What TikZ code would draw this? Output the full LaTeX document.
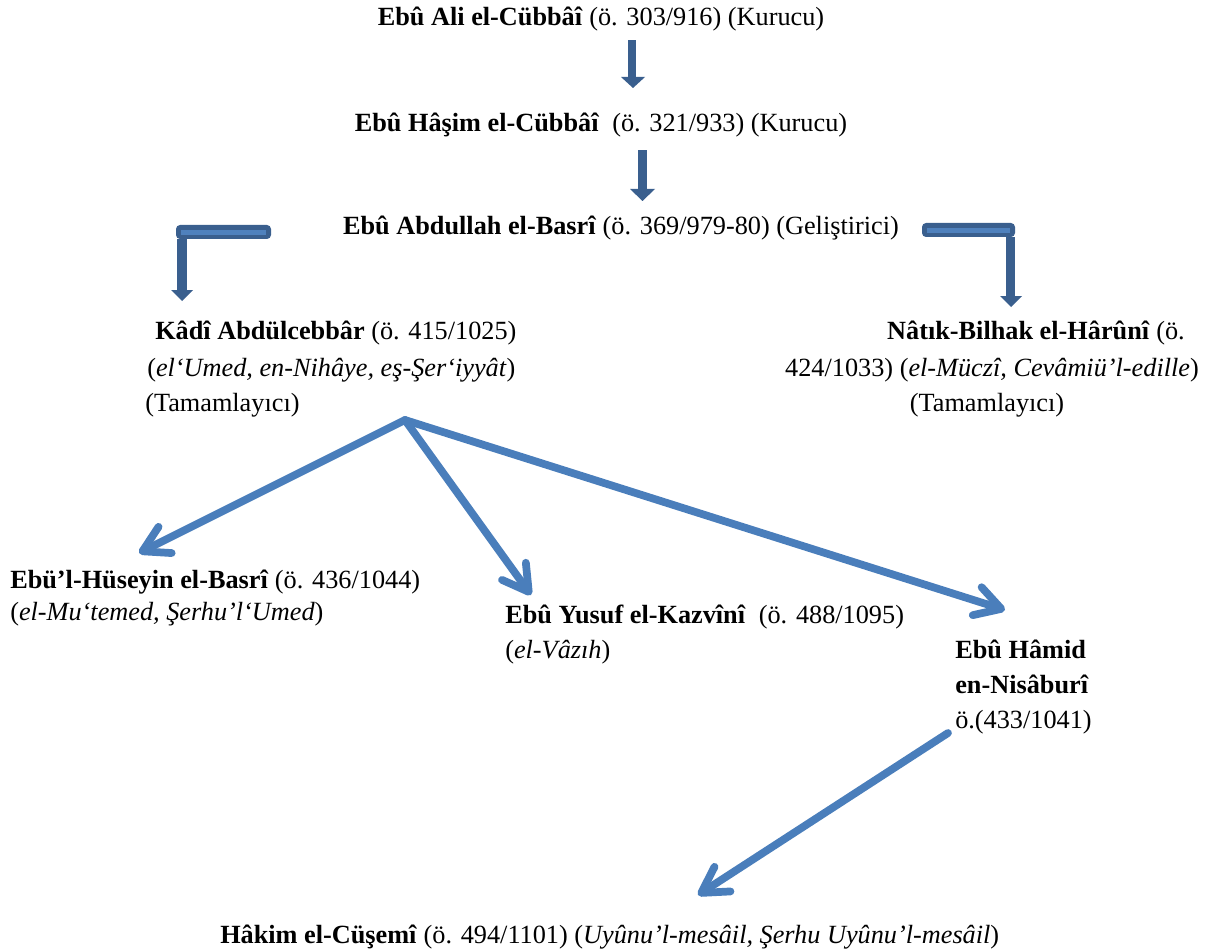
\documentclass[tikz,border=0pt]{standalone}
\usepackage{fontspec}
\setmainfont{Liberation Serif}
\usetikzlibrary{arrows.meta}
\definecolor{darkarrow}{HTML}{3A5F8E}
\definecolor{lightstripe}{HTML}{4F81BD}
\definecolor{bluearrow}{HTML}{4A7EBB}
\begin{document}
\begin{tikzpicture}[x=0.75pt,y=-0.75pt,
  txt/.style={inner sep=0pt,font=\fontsize{19.7}{26}\selectfont},
  blockfill/.style={fill=darkarrow},
  stripe/.style={fill=lightstripe},
  bluearr/.style={draw=bluearrow,line width=5.8pt,line cap=round,line join=round,
    -{Straight Barb[length=19pt,width=22pt,line cap=round,line join=round]}}]
\useasboundingbox (0,0) rectangle (1213,952);

% text nodes
\node[txt,anchor=base] (n1) at (601,26) {\textbf{Ebû Ali el-Cübbâî} (ö. 303/916) (Kurucu)};
\node[txt,anchor=base] (n2) at (601,132) {\textbf{Ebû Hâşim el-Cübbâî}\ \ (ö. 321/933) (Kurucu)};
\node[txt,anchor=base] (n3) at (621,235) {\textbf{Ebû Abdullah el-Basrî} (ö. 369/979-80) (Geliştirici)};

\node[txt,anchor=base west] (k1) at (155,339) {\textbf{Kâdî Abdülcebbâr} (ö. 415/1025)};
\node[txt,anchor=base west] (k2) at (147,376) {(\textit{el‘Umed, en-Nihâye, eş-Şer‘iyyât})};
\node[txt,anchor=base west] (k3) at (145,411) {(Tamamlayıcı)};

\node[txt,anchor=base east] (h1) at (1185,339) {\textbf{Nâtık-Bilhak el-Hârûnî} (ö.};
\node[txt,anchor=base] (h2) at (992,376) {424/1033) (\textit{el-Müczî, Cevâmiü’l-edille})};
\node[txt,anchor=base] (h3) at (987,411) {(Tamamlayıcı)};

\node[txt,anchor=base west] (b1) at (10,588) {\textbf{Ebü’l-Hüseyin el-Basrî} (ö. 436/1044)};
\node[txt,anchor=base west] (b2) at (10,620) {(\textit{el-Mu‘temed, Şerhu’l‘Umed})};

\node[txt,anchor=base west] (y1) at (505,623) {\textbf{Ebû Yusuf el-Kazvînî}\ \ (ö. 488/1095)};
\node[txt,anchor=base west] (y2) at (505,658) {(\textit{el-Vâzıh})};

\node[txt,anchor=base west] (m1) at (955,658) {\textbf{Ebû Hâmid}};
\node[txt,anchor=base west] (m2) at (955,693) {\textbf{en-Nisâburî}};
\node[txt,anchor=base west] (m3) at (955,728) {ö.(433/1041)};

\node[txt,anchor=base west] (c1) at (220,943) {\textbf{Hâkim el-Cüşemî} (ö. 494/1101) (\textit{Uyûnu’l-mesâil, Şerhu Uyûnu’l-mesâil})};

% dark block arrows (vertical)
\fill[blockfill] (628,40) rectangle (636,77);
\fill[blockfill] (621,77) -- (645,77) -- (633,88) -- cycle;
\fill[blockfill] (638,150) rectangle (647,189);
\fill[blockfill] (630,189) -- (655,189) -- (642.5,201) -- cycle;

% left elbow arrow
\fill[blockfill,rounded corners=3pt] (176,225) rectangle (271,239);
\fill[stripe] (181,230) rectangle (266,235);
\fill[blockfill] (177,239) rectangle (187,290);
\fill[blockfill] (171,290) -- (193,290) -- (182,301) -- cycle;

% right elbow arrow
\fill[blockfill,rounded corners=3pt] (922,223) rectangle (1015,237);
\fill[stripe] (927,228) rectangle (1010,233);
\fill[blockfill] (1006,237) rectangle (1015,296);
\fill[blockfill] (1000,296) -- (1022,296) -- (1011,307) -- cycle;

% blue arrows
\coordinate (kout) at (405,420);
\coordinate (hustip) at (139,553);
\coordinate (yustip) at (531,595);
\coordinate (hamtip) at (1005,610);
\coordinate (hamout) at (948,733);
\coordinate (haktip) at (698,895);
\draw[bluearr] (kout) -- (hustip);
\draw[bluearr] (kout) -- (yustip);
\draw[bluearr] (kout) -- (hamtip);
\draw[bluearr] (hamout) -- (haktip);
\end{tikzpicture}
\end{document}
